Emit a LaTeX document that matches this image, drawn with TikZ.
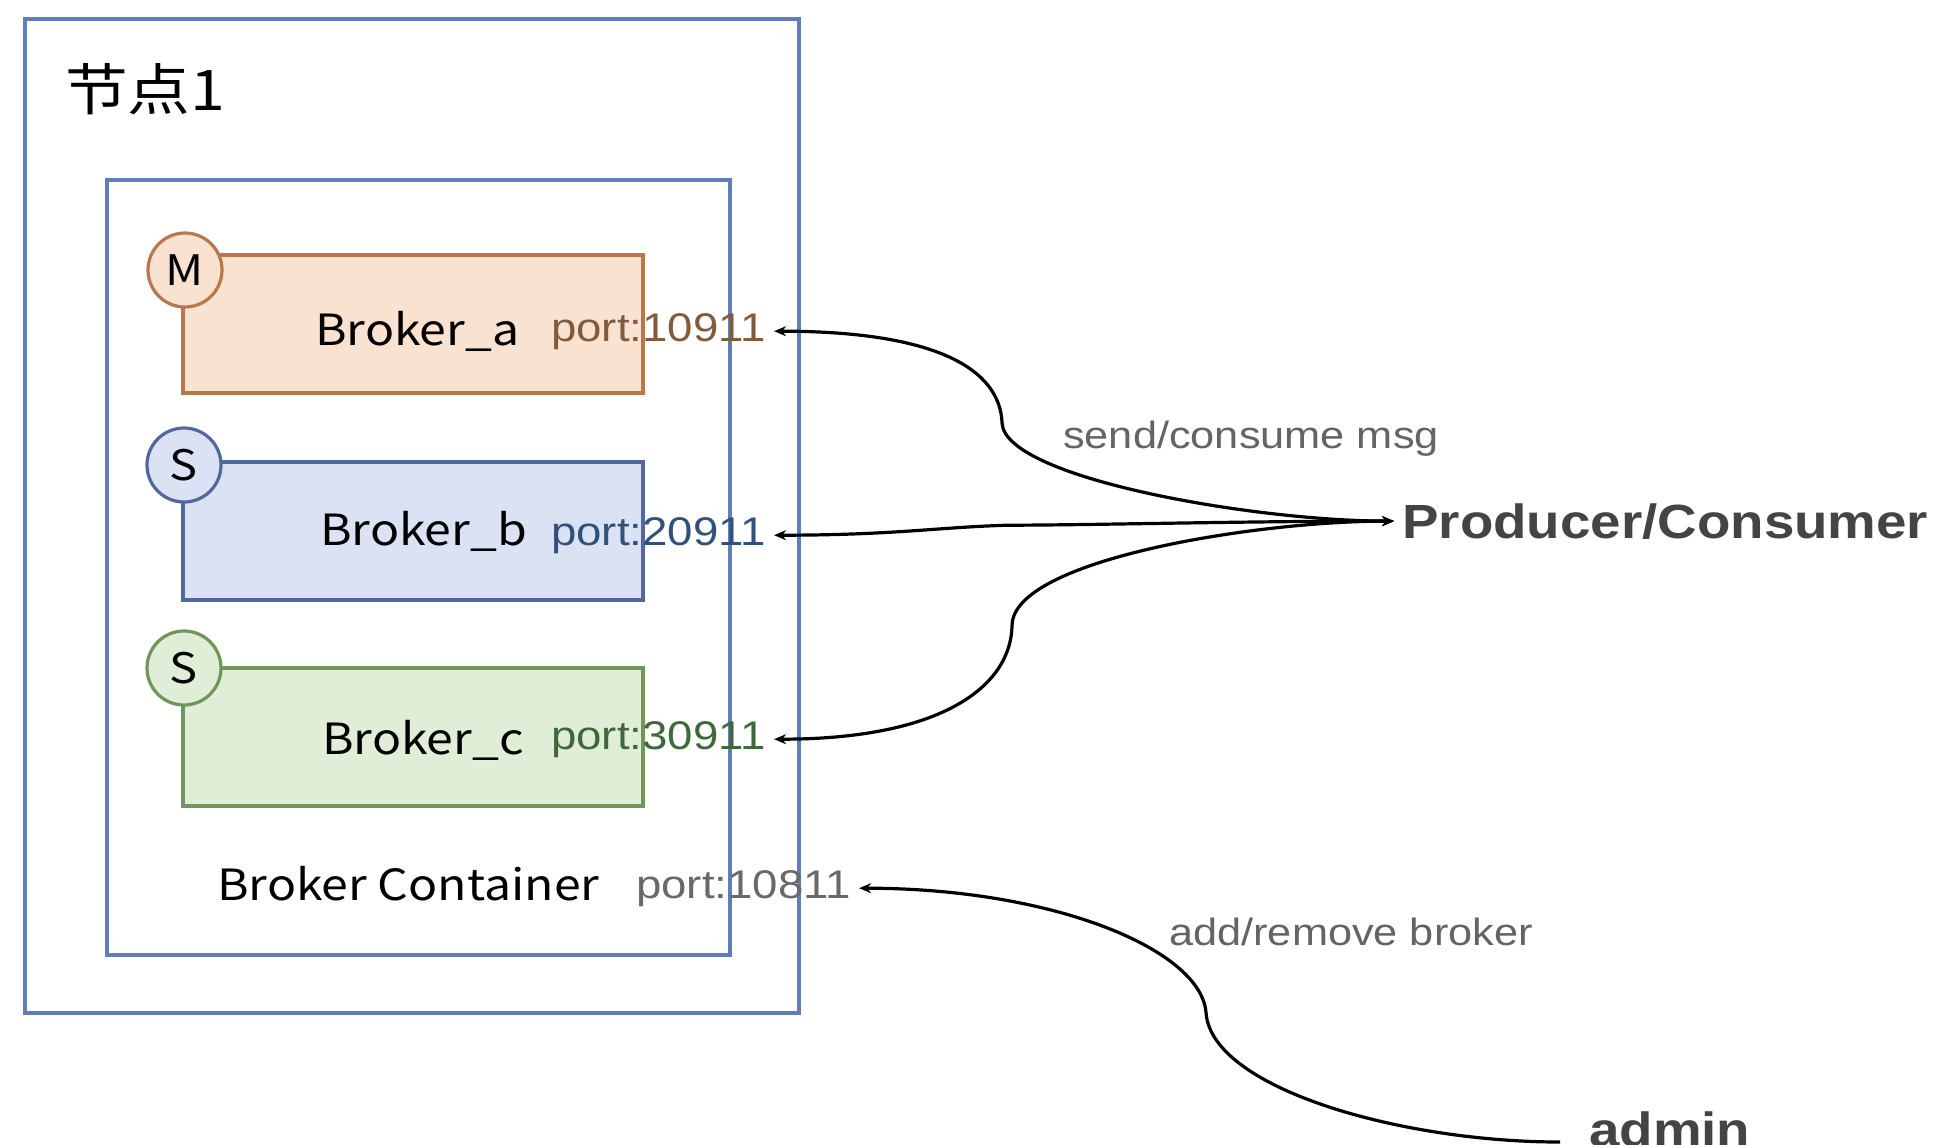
\documentclass[tikz,border=0pt]{standalone}
\usepackage{fontspec}
\setmainfont{Liberation Sans}
\newfontfamily\cjkfont[FakeStretch=1.12]{Noto Sans CJK SC}
\newfontfamily\helfont[FakeStretch=1.14]{Liberation Sans}
\usetikzlibrary{positioning,arrows.meta}

\definecolor{frameblue}{RGB}{96,126,186}
\definecolor{aline}{RGB}{185,120,75}
\definecolor{afill}{RGB}{250,226,208}
\definecolor{bline}{RGB}{80,104,158}
\definecolor{bfill}{RGB}{218,226,244}
\definecolor{cline}{RGB}{112,150,92}
\definecolor{cfill}{RGB}{224,238,215}
\definecolor{porta}{RGB}{130,90,60}
\definecolor{portb}{RGB}{50,80,125}
\definecolor{portc}{RGB}{62,105,58}
\definecolor{portk}{RGB}{105,105,105}
\definecolor{msggray}{RGB}{100,100,100}
\definecolor{endgray}{RGB}{68,68,68}

\begin{document}
\begin{tikzpicture}[x=1pt,y=-1pt,
    frame/.style={draw=frameblue, line width=3.2pt, inner sep=0pt},
    brokerbox/.style n args={2}{draw=#1, fill=#2, line width=3.2pt,
        minimum width=460pt, minimum height=138pt, inner sep=0pt},
    role/.style n args={2}{circle, draw=#1, fill=#2, line width=3.2pt,
        minimum size=74pt, inner sep=0pt, font=\cjkfont\fontsize{42}{42}\selectfont},
    boxtext/.style={anchor=base west, inner sep=5pt, font=\cjkfont\fontsize{43}{50}\selectfont},
    porttext/.style={anchor=base west, inner sep=8pt, text=#1, font=\helfont\fontsize{40}{44}\selectfont},
    msgtext/.style={anchor=base west, inner sep=5pt, text=msggray, font=\helfont\fontsize{38}{44}\selectfont},
    endtext/.style={anchor=base west, inner sep=8pt, text=endgray, font=\helfont\bfseries\fontsize{48}{54}\selectfont},
    conn/.style={line width=3.2pt, >={Stealth[length=12pt,width=10pt]}}]
    \useasboundingbox (0,0) rectangle (1942,1144);
    \fill[white] (0,0) rectangle (1942,1144);

    % node frames
    \node[frame, minimum width=774pt, minimum height=994pt] (node1) at (412,516) {};
    \node[frame, minimum width=623pt, minimum height=775pt] (container) at (418.5,567.5) {};
    \node[boxtext, font=\cjkfont\fontsize{56}{60}\selectfont] (title) at (60,110) {节点1};

    % brokers
    \node[brokerbox={aline}{afill}] (ba) at (413,324) {};
    \node[brokerbox={bline}{bfill}] (bb) at (413,531) {};
    \node[brokerbox={cline}{cfill}] (bc) at (413,737) {};
    \node[role={aline}{afill}] (ma) at (185,270) {M};
    \node[role={bline}{bfill}] (sb) at (184,465) {S};
    \node[role={cline}{cfill}] (sc) at (184,668) {S};
    \node[boxtext] (ta) at (310,345) {Broker\_a};
    \node[boxtext] (tb) at (315,545) {Broker\_b};
    \node[boxtext] (tc) at (317,754) {Broker\_c};
    \node[boxtext] (tk) at (212,900) {Broker Container};

    % ports
    \node[porttext=porta] (pa) at (543,341) {port:10911};
    \node[porttext=portb] (pb) at (543,545) {port:20911};
    \node[porttext=portc] (pc) at (543,749) {port:30911};
    \node[porttext=portk] (pk) at (628,898) {port:10811};

    % clients
    \node[endtext] (prod) at (1394,538) {Producer/Consumer};
    \node[endtext] (admin) at (1581,1146) {admin};
    \node[msgtext] (msg) at (1058,448) {send/consume msg};
    \node[msgtext] (adm) at (1164,945) {add/remove broker};

    % connectors
    \draw[conn, <->] (pa.east) .. controls +(160,0) and +(-2,-55) .. ++(228,92)
        .. controls +(3,55) and +(-140,0) .. (prod.west);
    \draw[conn, <->] (pb.east) .. controls +(120,0) and +(-70,2) .. ++(234,-10)
        .. controls +(80,0) and +(-150,0) .. (prod.west);
    \draw[conn, <->] (pc.east) .. controls +(170,0) and +(-1,60) .. ++(238,-114)
        .. controls +(1,-65) and +(-140,0) .. (prod.west);
    \draw[conn, <-] (pk.east) .. controls +(195,0) and +(-4,-63) .. ++(347,125)
        .. controls +(6,75) and +(-160,0) .. ([xshift=-21pt,yshift=4pt]admin.base west);
\end{tikzpicture}
\end{document}
